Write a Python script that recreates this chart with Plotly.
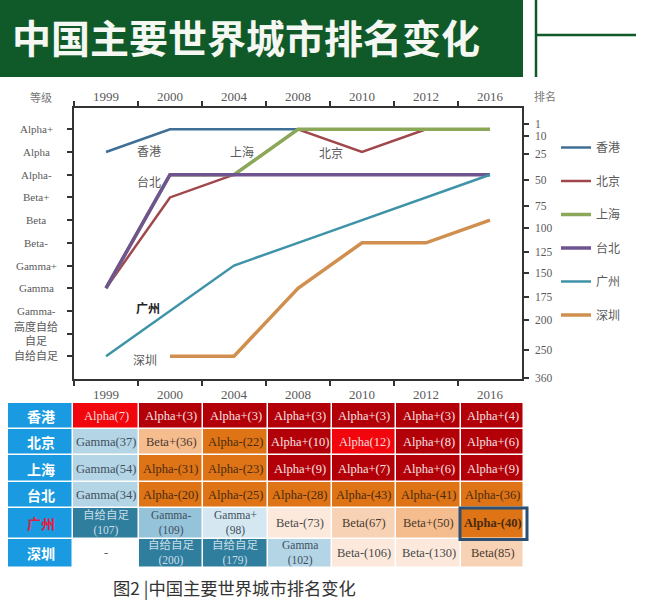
import plotly.graph_objects as go

W, H = 663, 601

years = ["1999", "2000", "2004", "2008", "2010", "2012", "2016"]
grades = ["Alpha+", "Alpha", "Alpha-", "Beta+", "Beta", "Beta-", "Gamma+", "Gamma", "Gamma-",
          "高度自给<br>自足", "自给自足"]
cities = ["香港", "北京", "上海", "台北", "广州", "深圳"]

# grade rows for the line chart, 0 = Alpha+ ... 10 = 自给自足
hongkong = [1, 0, 0, 0, 0, 0, 0]
beijing = [7, 3, 2, 0, 1, 0, 0]
shanghai = [7, 2, 2, 0, 0, 0, 0]
taipei = [7, 2, 2, 2, 2, 2, 2]
guangzhou = [10, 8, 6, 5, 4, 3, 2]
shenzhen = [None, 10, 10, 7, 5, 5, 4]
line_colors = ["#3F6F96", "#A0474C", "#8BA758", "#6F5490", "#3F93A8", "#D08F4E"]
line_widths = [2.5, 2.5, 3.5, 3.5, 2.5, 3.5]

rank_labels = ["1", "10", "25", "50", "75", "100", "125", "150", "175", "200", "250", "360"]
rank_rows = [-0.23, 0.30, 1.10, 2.22, 3.36, 4.33, 5.39, 6.33, 7.37, 8.40, 9.72, 10.97]

table_text = [
    ["Alpha(7)", "Alpha+(3)", "Alpha+(3)", "Alpha+(3)", "Alpha+(3)", "Alpha+(3)", "Alpha+(4)"],
    ["Gamma(37)", "Beta+(36)", "Alpha-(22)", "Alpha+(10)", "Alpha(12)", "Alpha+(8)", "Alpha+(6)"],
    ["Gamma(54)", "Alpha-(31)", "Alpha-(23)", "Alpha+(9)", "Alpha+(7)", "Alpha+(6)", "Alpha+(9)"],
    ["Gamma(34)", "Alpha-(20)", "Alpha-(25)", "Alpha-(28)", "Alpha-(43)", "Alpha-(41)", "Alpha-(36)"],
    ["自给自足<br>(107)", "Gamma-<br>(109)", "Gamma+<br>(98)", "Beta-(73)", "Beta(67)", "Beta+(50)", "<b>Alpha-(40)</b>"],
    ["-", "自给自足<br>(200)", "自给自足<br>(179)", "Gamma<br>(102)", "Beta-(106)", "Beta-(130)", "Beta(85)"],
]
# colour class of every cell: 0 Alpha+, 1 Alpha, 2 Alpha-, 3 Beta+, 4 Beta, 5 Beta-,
# 6 Gamma+, 7 Gamma, 8 Gamma-, 9 自给自足, 10 row header
table_class = [
    [10, 1, 0, 0, 0, 0, 0, 0],
    [10, 7, 3, 2, 0, 1, 0, 0],
    [10, 7, 2, 2, 0, 0, 0, 0],
    [10, 7, 2, 2, 2, 2, 2, 2],
    [10, 9, 8, 6, 5, 4, 3, 2],
    [10, None, 9, 9, 7, 5, 5, 4],
]
class_colors = ["#B30008", "#F0060C", "#DE7415", "#F5BC8E", "#F8D2B4", "#FCE9DC",
                "#D5E8F2", "#B4D5E6", "#94C3DA", "#2F7E9E", "#1A9AE0"]
cell_text_colors = ["#F4E4E4", "#F6DDDD", "#4A2A10", "#4A3A30", "#4A3A30", "#4A4A4A",
                    "#3F4F5C", "#3F4F5C", "#3F4F5C", "#C9DDE6"]

col_edges = [8, 73, 139, 203, 268, 332, 396, 461, 524]
row_edges = [403, 429, 455, 482, 508, 538.5, 568]

PLOT_L, PLOT_R, PLOT_T, PLOT_B = 74, 522, 108, 379
TABLE_T, TABLE_B = 398, 575
SERIF = "'Liberation Serif', 'Noto Sans CJK SC', serif"
CJK = "'Noto Sans CJK SC', sans-serif"
GREY = "#5A5A5A"

fig = go.Figure()

for name, vals, color, width in zip(
    cities, [hongkong, beijing, shanghai, taipei, guangzhou, shenzhen], line_colors, line_widths
):
    fig.add_trace(go.Scatter(
        x=years, y=vals, name=name, mode="lines", legendgroup=name,
        line=dict(color=color, width=width),
    ))

# carries the top and rank axes
fig.add_trace(go.Scatter(
    x=years, y=rank_rows[:7], xaxis="x2", yaxis="y2", mode="lines",
    line=dict(width=0), showlegend=False, hoverinfo="skip",
))

n = len(class_colors) - 1
scale = []
for i, c in enumerate(class_colors):
    scale += [[i / (n + 1), c], [(i + 1) / (n + 1), c]]
fig.add_trace(go.Heatmap(
    x=col_edges, y=row_edges, z=table_class, xaxis="x3", yaxis="y3",
    colorscale=scale, zmin=-0.5, zmax=n + 0.5, showscale=False, xgap=1.5, ygap=1.5,
    hoverinfo="skip",
))

annotations = []


def note(text, x, y, size=12, color=GREY, font=SERIF, **kw):
    annotations.append(dict(
        text=text, x=x, y=y, showarrow=False, font=dict(size=size, color=color, family=font),
        xanchor="center", yanchor="middle",
        **{"xref": "paper", "yref": "paper", **kw},
    ))


def px(x, y):
    return x / W, 1 - y / H


# grade names are centred on one another, so they are notes rather than tick labels
for row, grade in enumerate(grades):
    note(grade, px(36, 0)[0], row, size=11, yref="y")

note("等级", *px(41, 97), size=11, color="#777777", font=CJK)
note("排名", *px(545, 96), size=11, color="#777777", font=CJK)

for name, x, y, col, weight in [("香港", 149, 150, GREY, False), ("上海", 242, 151, GREY, False),
                                 ("北京", 331, 152, GREY, False), ("台北", 149, 182, GREY, False),
                                 ("广州", 148, 307, "#222222", True), ("深圳", 145, 359, GREY, False)]:
    note(f"<b>{name}</b>" if weight else name, *px(x, y), color=col, font=CJK)

# table cells
for r, row in enumerate(table_class):
    cy = (row_edges[r] + row_edges[r + 1]) / 2
    head = "#E02040" if cities[r] == "广州" else "white"
    note(f"<b>{cities[r]}</b>", (col_edges[0] + col_edges[1]) / 2, cy, size=14, color=head, font=CJK,
         xref="x3", yref="y3")
    for c, label in enumerate(table_text[r]):
        cx = (col_edges[c + 1] + col_edges[c + 2]) / 2
        cls = row[c + 1]
        col = GREY if cls is None else cell_text_colors[cls]
        note(label, cx, cy, size=11.5 if "<br>" in label else 12.5, color=col, xref="x3", yref="y3")

note("图2 |中国主要世界城市排名变化", *px(234, 587), size=17.3, color="#333333", font=CJK)
note("<b>中国主要世界城市排名变化</b>", *px(246, 36), size=39, color="#F4F7F2", font=CJK)

axis_line = dict(showline=True, linecolor="#333333", linewidth=1.5, ticks="outside", tickcolor="#333333",
                 tickwidth=1.5, ticklen=5, showgrid=False, zeroline=False)

shapes = [
    dict(type="rect", xref="paper", yref="paper", x0=0, x1=523 / W, y0=1 - 77 / H, y1=1,
         fillcolor="#0F5A28", line_width=0, layer="below"),
    dict(type="line", xref="paper", yref="paper", x0=536 / W, x1=536 / W, y0=1 - 77 / H, y1=1,
         line=dict(color="#0F5A28", width=2.5)),
    dict(type="line", xref="paper", yref="paper", x0=536 / W, x1=636 / W, y0=1 - 35 / H, y1=1 - 35 / H,
         line=dict(color="#0F5A28", width=2.5)),
    dict(type="rect", xref="x3", yref="y3", x0=col_edges[-2] - 1, x1=col_edges[-1] + 3,
         y0=row_edges[4], y1=row_edges[5] + 1, line=dict(color="#2C4F74", width=3)),
]

fig.update_layout(
    width=W, height=H, margin=dict(l=0, r=0, t=0, b=0, autoexpand=False),
    paper_bgcolor="white", plot_bgcolor="rgba(0,0,0,0)",
    font=dict(family=SERIF, color=GREY),
    annotations=annotations, shapes=shapes,
    xaxis=dict(domain=[PLOT_L / W, PLOT_R / W], type="category", categoryorder="array", categoryarray=years,
               range=[-0.5, 6.5], tickson="boundaries", side="bottom", tickfont=dict(size=13, color=GREY),
               ticklabelstandoff=3, anchor="y", **axis_line),
    xaxis2=dict(domain=[PLOT_L / W, PLOT_R / W], type="category", categoryorder="array", categoryarray=years,
                range=[-0.5, 6.5], tickson="boundaries", side="top", tickfont=dict(size=13, color=GREY),
                overlaying="x", anchor="y2", **axis_line),
    yaxis=dict(domain=[1 - PLOT_B / H, 1 - PLOT_T / H], range=[11, -0.94], tickmode="array",
               tickvals=list(range(len(grades))), showticklabels=False, anchor="x", **axis_line),
    yaxis2=dict(domain=[1 - PLOT_B / H, 1 - PLOT_T / H], range=[11, -0.94], tickmode="array",
                tickvals=rank_rows, ticktext=rank_labels, side="right", overlaying="y", anchor="x2",
                tickfont=dict(size=11.5, color=GREY), ticklabelstandoff=4, **axis_line),
    xaxis3=dict(domain=[0, 1], range=[0, W], visible=False, anchor="y3"),
    yaxis3=dict(domain=[1 - TABLE_B / H, 1 - TABLE_T / H], range=[TABLE_B, TABLE_T], visible=False, anchor="x3"),
    legend=dict(x=556 / W, y=1 - 133 / H, xanchor="left", yanchor="top", tracegroupgap=14.5, itemwidth=30,
                font=dict(size=12, color=GREY, family=CJK), bgcolor="rgba(0,0,0,0)"),
)

fig.write_html("out.html", config={"displayModeBar": False}, post_script="document.body.style.margin='0';")
